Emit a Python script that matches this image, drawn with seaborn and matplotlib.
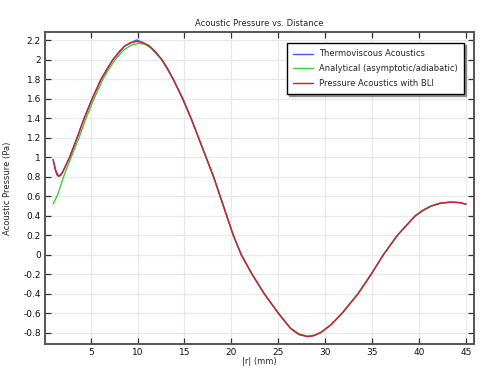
import numpy as np
import pandas as pd
import matplotlib
matplotlib.use("Agg")
import matplotlib.pyplot as plt
from matplotlib.ticker import FuncFormatter, MultipleLocator
import seaborn as sns

# values (|r| in mm, pressure in Pa)
r_blue = [1.0, 1.3, 1.6, 2.0, 2.75, 3.55, 4.3, 5.15, 6.1, 7.35, 8.6, 9.9, 11.2, 12.6,
          13.8, 14.8, 15.7, 16.5, 17.3, 18.1, 18.8, 19.5, 20.2, 21.05, 22.2, 23.5, 25.0,
          26.3, 27.2, 28.1, 28.8, 29.5, 30.6, 31.8, 33.5, 34.9, 36.2, 37.7, 39.6, 40.5,
          41.3, 42.3, 43.4, 44.3, 45.0]
p_blue = [0.975, 0.86, 0.805, 0.845, 1.0, 1.2, 1.4, 1.6, 1.8, 2.0, 2.14, 2.205, 2.145, 2.0,
          1.8, 1.61, 1.4, 1.2, 1.0, 0.8, 0.6, 0.4, 0.2, 0.0, -0.2, -0.4, -0.6,
          -0.755, -0.82, -0.84, -0.83, -0.8, -0.72, -0.6, -0.4, -0.2, 0.0, 0.2, 0.4, 0.46,
          0.5, 0.53, 0.54, 0.535, 0.52]

r_green = [1.0, 1.5, 2.0, 2.5, 3.0, 3.75, 4.5, 5.35, 6.3, 6.9, 7.6, 8.5, 9.3, 10.1, 10.8,
           11.6, 12.6, 13.2, 13.8, 14.8, 15.7, 16.5, 17.3, 18.1, 18.8, 19.5, 20.2, 21.05,
           22.2, 23.5, 25.0, 26.3, 27.2, 28.1, 28.8, 29.5, 30.6, 31.8, 33.5, 34.9, 36.2,
           37.7, 39.6, 40.5, 41.3, 42.3, 43.4, 44.3, 45.0]
p_green = [0.52, 0.62, 0.77, 0.9, 1.02, 1.2, 1.4, 1.6, 1.8, 1.9, 2.0, 2.1, 2.15, 2.17, 2.16,
           2.11, 2.0, 1.91, 1.8, 1.6, 1.4, 1.2, 1.0, 0.8, 0.6, 0.4, 0.2, 0.0,
           -0.2, -0.4, -0.6, -0.755, -0.815, -0.835, -0.825, -0.8, -0.72, -0.6, -0.4, -0.2, 0.0,
           0.2, 0.4, 0.46, 0.5, 0.53, 0.54, 0.535, 0.52]

r_red = [1.0, 1.2, 1.4, 1.6, 1.8, 2.0, 2.3, 2.75, 3.15, 3.55, 4.3, 5.15, 6.1, 6.7, 7.35,
         8.0, 8.6, 9.2, 9.9, 10.5, 11.2, 11.9, 12.6, 13.2, 13.8, 14.8, 15.7, 16.5, 17.3,
         18.1, 18.8, 19.5, 20.2, 21.05, 22.2, 23.5, 25.0, 26.3, 27.2, 28.1, 28.8, 29.5,
         30.6, 31.8, 33.5, 34.9, 36.2, 37.7, 39.6, 40.5, 41.3, 42.3, 43.4, 44.3, 45.0]
p_red = [0.975, 0.88, 0.82, 0.805, 0.815, 0.845, 0.91, 1.0, 1.1, 1.2, 1.4, 1.6, 1.8, 1.9, 2.0,
         2.08, 2.14, 2.175, 2.19, 2.18, 2.145, 2.085, 2.0, 1.91, 1.8, 1.6, 1.4, 1.2, 1.0,
         0.8, 0.6, 0.4, 0.2, 0.0, -0.2, -0.4, -0.6, -0.755, -0.815, -0.84, -0.83, -0.8,
         -0.72, -0.6, -0.4, -0.2, 0.0, 0.2, 0.4, 0.46, 0.5, 0.53, 0.54, 0.535, 0.52]

series_names = ["Thermoviscous Acoustics", "Analytical (asymptotic/adiabatic)",
                "Pressure Acoustics with BLI"]
series_colors = ["#3a55ff", "#3ccc3c", "#d01e30"]


def tick_fmt(v, pos):
    v = round(v, 2)
    if v == 0:
        return "0"
    return f"{v:g}"


def main():
    sns.set_theme(style="whitegrid")
    plt.rcParams["font.family"] = ["DejaVu Sans"]
    plt.rcParams["axes.unicode_minus"] = False

    df = pd.concat([
        pd.DataFrame({"r": r_blue, "p": p_blue, "series": series_names[0]}),
        pd.DataFrame({"r": r_green, "p": p_green, "series": series_names[1]}),
        pd.DataFrame({"r": r_red, "p": p_red, "series": series_names[2]}),
    ], ignore_index=True)

    fig = plt.figure(figsize=(4.82, 3.71), dpi=100)
    ax = fig.add_axes([45 / 482, 27 / 371, 429 / 482, 312 / 371])

    sns.lineplot(data=df, x="r", y="p", hue="series", hue_order=series_names,
                 palette=series_colors, sort=False, estimator=None, linewidth=1.0,
                 ax=ax)

    ax.set_xlim(0.13, 45.86)
    ax.set_ylim(-0.916, 2.286)
    ax.xaxis.set_major_locator(MultipleLocator(5))
    ax.yaxis.set_major_locator(MultipleLocator(0.2))
    ax.xaxis.set_major_formatter(FuncFormatter(tick_fmt))
    ax.yaxis.set_major_formatter(FuncFormatter(tick_fmt))

    ax.grid(True, color="#e8e8e8", linewidth=0.9)
    for s in ax.spines.values():
        s.set_visible(True)
        s.set_color("#555555")
        s.set_linewidth(1.4)
    ax.tick_params(direction="in", length=4, width=0.9, color="#333333",
                   labelsize=6.5, labelcolor="#111111", top=True, right=True,
                   bottom=True, left=True, pad=3)

    ax.set_title("Acoustic Pressure vs. Distance", fontsize=6, pad=4)
    ax.set_xlabel("|r| (mm)", fontsize=6, labelpad=0)
    ax.set_ylabel("Acoustic Pressure (Pa)", fontsize=6, labelpad=8)

    leg = ax.legend(loc="upper right", bbox_to_anchor=(0.977, 0.964), borderaxespad=0,
                    fontsize=6, frameon=True, fancybox=False,
                    shadow={"ox": 1.5, "oy": -1.5, "color": "0.5", "alpha": 0.8},
                    handlelength=2.4, handletextpad=0.7, labelspacing=0.7,
                    borderpad=0.75, title=None)
    leg.get_frame().set_edgecolor("black")
    leg.get_frame().set_linewidth(1.0)
    leg.get_frame().set_alpha(1)

    fig.savefig("out.png", dpi=100)


if __name__ == "__main__":
    main()
